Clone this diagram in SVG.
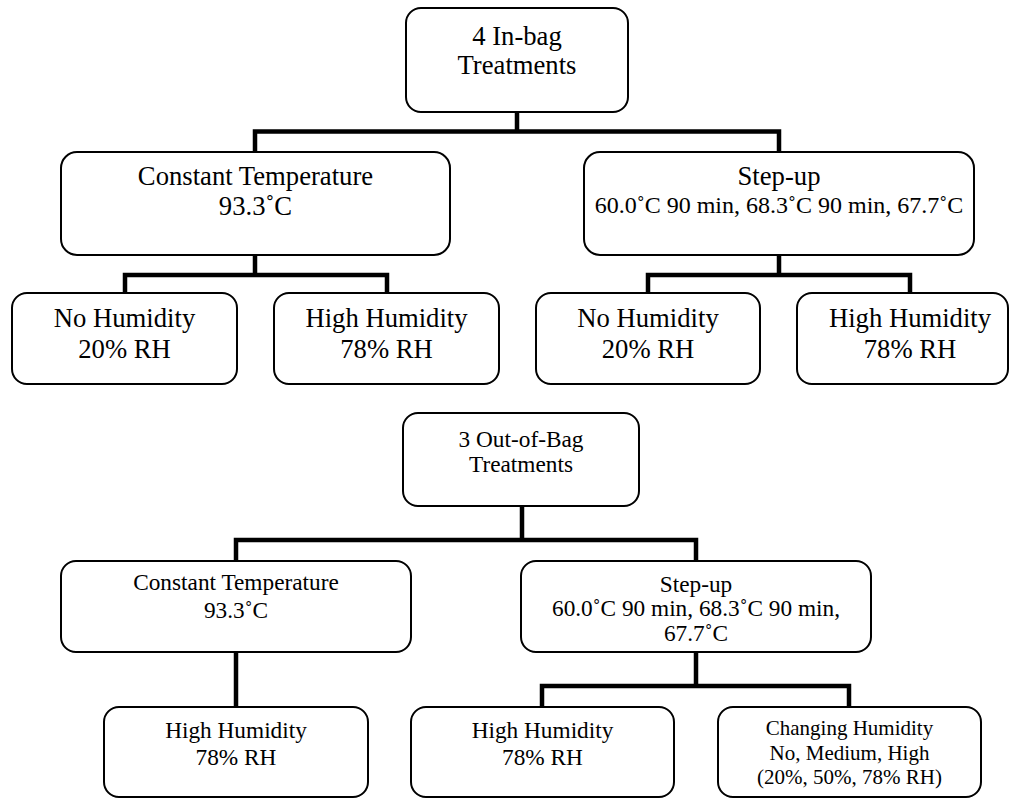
<svg xmlns="http://www.w3.org/2000/svg" width="1011" height="798" viewBox="0 0 1011 798">
<style>
.box{fill:#fff;stroke:#000;stroke-width:2}
.t{font-family:"Liberation Serif","Times New Roman",serif;fill:#000;text-anchor:middle}
.fa{font-size:26.67px}
.fb{font-size:24px}
.fc{font-size:23.3px}
.fd{font-size:21px}
.c{fill:none;stroke:#000;stroke-width:4.5;stroke-linejoin:miter;stroke-linecap:butt}
</style>
<rect width="1011" height="798" fill="#fff"/>
<g id="connectors">
<path class="c" d="M517 112V131.5M255 152V131.5H779V152"/>
<path class="c" d="M255 255V275M125 293V275H387V293"/>
<path class="c" d="M779 255V275M648 293V275H910V293"/>
<path class="c" d="M522 506V540M236 561V540H696V561"/>
<path class="c" d="M236 652V707"/>
<path class="c" d="M696 652V686M542 707V686H849V707"/>
</g>
<g id="inbag">
<rect class="box" x="406" y="8" width="222" height="104" rx="15"/>
<text class="t fa" x="517" y="45" style="font-family:'Liberation Serif',serif">4 In-bag</text>
<text class="t fa" x="517" y="74" style="font-family:'Liberation Serif',serif">Treatments</text>
</g>
<g id="ct1">
<rect class="box" x="61" y="152" width="389" height="103" rx="16"/>
<text class="t fa" x="255.5" y="185" style="font-family:'Liberation Serif',serif">Constant Temperature</text>
<text class="t fa" x="255.5" y="215" style="font-family:'Liberation Serif',serif">93.3˚C</text>
</g>
<g id="su1">
<rect class="box" x="584" y="152" width="390" height="103" rx="16"/>
<text class="t fa" x="779" y="185" style="font-family:'Liberation Serif',serif">Step-up</text>
<text class="t fb" x="779" y="213" style="font-family:'Liberation Serif',serif">60.0˚C 90 min, 68.3˚C 90 min, 67.7˚C</text>
</g>
<g id="nh1">
<rect class="box" x="12" y="293" width="225" height="91" rx="15"/>
<text class="t fa" x="124.5" y="327" style="font-family:'Liberation Serif',serif">No Humidity</text>
<text class="t fa" x="124.5" y="358" style="font-family:'Liberation Serif',serif">20% RH</text>
</g>
<g id="hh1">
<rect class="box" x="274" y="293" width="225" height="91" rx="15"/>
<text class="t fa" x="386.5" y="327" style="font-family:'Liberation Serif',serif">High Humidity</text>
<text class="t fa" x="386.5" y="358" style="font-family:'Liberation Serif',serif">78% RH</text>
</g>
<g id="nh2">
<rect class="box" x="536" y="293" width="224" height="91" rx="15"/>
<text class="t fa" x="648" y="327" style="font-family:'Liberation Serif',serif">No Humidity</text>
<text class="t fa" x="648" y="358" style="font-family:'Liberation Serif',serif">20% RH</text>
</g>
<g id="hh2">
<rect class="box" x="797" y="293" width="211" height="91" rx="15"/>
<text class="t fa" x="910" y="327" style="font-family:'Liberation Serif',serif">High Humidity</text>
<text class="t fa" x="910" y="358" style="font-family:'Liberation Serif',serif">78% RH</text>
</g>
<g id="outbag">
<rect class="box" x="403" y="413" width="236" height="93" rx="15"/>
<text class="t fc" x="521" y="447">3 Out-of-Bag</text>
<text class="t fc" x="521" y="472">Treatments</text>
</g>
<g id="ct2">
<rect class="box" x="61" y="561" width="350" height="91" rx="15"/>
<text class="t fc" x="236" y="590">Constant Temperature</text>
<text class="t fc" x="236" y="618">93.3˚C</text>
</g>
<g id="su2">
<rect class="box" x="521" y="561" width="350" height="91" rx="15"/>
<text class="t fc" x="696" y="592">Step-up</text>
<text class="t fc" x="696" y="616">60.0˚C 90 min, 68.3˚C 90 min,</text>
<text class="t fc" x="696" y="641">67.7˚C</text>
</g>
<g id="hh3">
<rect class="box" x="104" y="707" width="264" height="90" rx="15"/>
<text class="t fc" x="236" y="738">High Humidity</text>
<text class="t fc" x="236" y="765">78% RH</text>
</g>
<g id="hh4">
<rect class="box" x="411" y="707" width="263" height="90" rx="15"/>
<text class="t fc" x="542.5" y="738">High Humidity</text>
<text class="t fc" x="542.5" y="765">78% RH</text>
</g>
<g id="ch">
<rect class="box" x="718" y="707" width="263" height="90" rx="15"/>
<text class="t fd" x="849.5" y="735">Changing Humidity</text>
<text class="t fd" x="849.5" y="760">No, Medium, High</text>
<text class="t fd" x="849.5" y="784">(20%, 50%, 78% RH)</text>
</g>
</svg>
